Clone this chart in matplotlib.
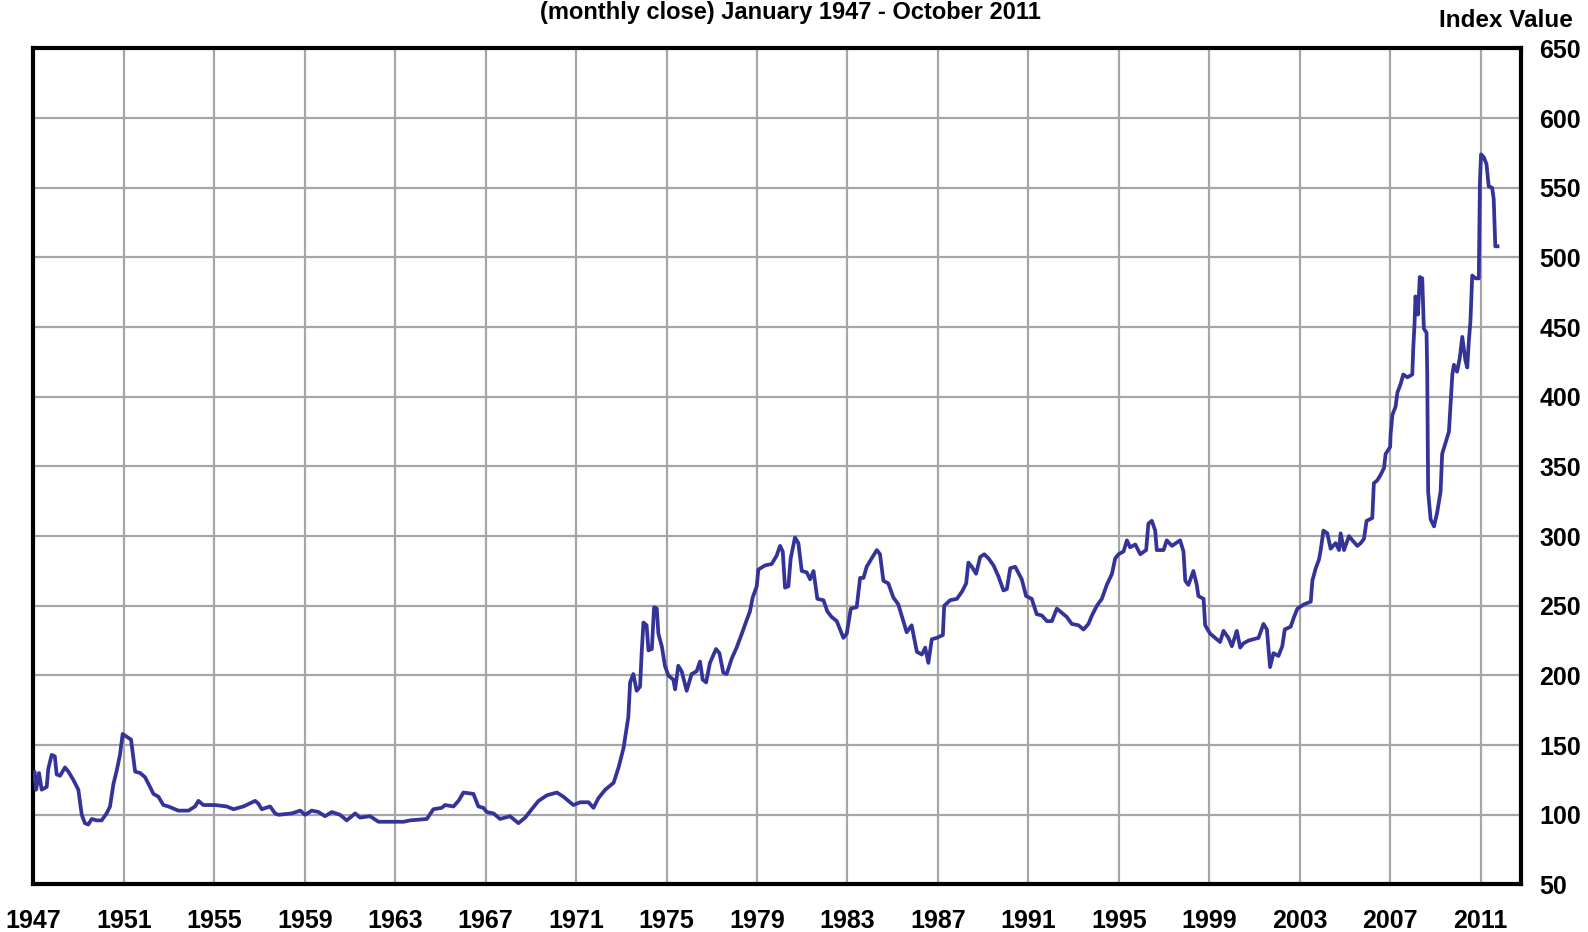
import matplotlib
matplotlib.use('Agg')
import matplotlib.pyplot as plt

plt.rcParams['font.family'] = ['Liberation Sans', 'DejaVu Sans']

# index value (monthly close), as (year, value) vertices
years = [
    1947.00, 1947.05, 1947.12, 1947.25, 1947.37, 1947.59, 1947.66, 1947.81, 1947.95, 1948.03,
    1948.18, 1948.40, 1948.55, 1948.77, 1948.99, 1949.14, 1949.28, 1949.43, 1949.58, 1949.80,
    1950.02, 1950.24, 1950.39, 1950.54, 1950.69, 1950.83, 1950.95, 1951.13, 1951.32, 1951.50,
    1951.72, 1951.94, 1952.16, 1952.31, 1952.53, 1952.75, 1952.97, 1953.41, 1953.86, 1954.15,
    1954.30, 1954.52, 1955.04, 1955.55, 1955.85, 1956.29, 1956.81, 1956.95, 1957.10, 1957.47,
    1957.69, 1957.84, 1958.43, 1958.80, 1959.02, 1959.31, 1959.61, 1959.90, 1960.20, 1960.56,
    1960.86, 1961.23, 1961.45, 1961.89, 1962.26, 1963.37, 1963.66, 1964.40, 1964.69, 1965.06,
    1965.21, 1965.58, 1965.80, 1966.02, 1966.46, 1966.68, 1966.90, 1967.05, 1967.35, 1967.64,
    1968.08, 1968.45, 1968.75, 1969.04, 1969.34, 1969.71, 1970.15, 1970.44, 1970.88, 1971.18,
    1971.55, 1971.77, 1971.99, 1972.29, 1972.66, 1972.88, 1973.10, 1973.31, 1973.39, 1973.53,
    1973.68, 1973.83, 1973.90, 1973.98, 1974.12, 1974.20, 1974.35, 1974.45, 1974.57, 1974.64,
    1974.79, 1974.93, 1975.08, 1975.30, 1975.38, 1975.52, 1975.67, 1975.89, 1976.11, 1976.33,
    1976.48, 1976.60, 1976.75, 1976.92, 1977.19, 1977.34, 1977.51, 1977.66, 1977.88, 1978.10,
    1978.33, 1978.55, 1978.69, 1978.81, 1978.99, 1979.06, 1979.36, 1979.65, 1979.87, 1980.02,
    1980.14, 1980.24, 1980.39, 1980.49, 1980.68, 1980.83, 1980.98, 1981.20, 1981.35, 1981.50,
    1981.67, 1981.94, 1982.11, 1982.30, 1982.53, 1982.82, 1982.97, 1983.15, 1983.41, 1983.56,
    1983.71, 1983.85, 1984.07, 1984.30, 1984.44, 1984.59, 1984.81, 1985.03, 1985.25, 1985.40,
    1985.62, 1985.84, 1986.07, 1986.29, 1986.44, 1986.58, 1986.73, 1986.95, 1987.22, 1987.28,
    1987.54, 1987.84, 1988.06, 1988.25, 1988.35, 1988.50, 1988.69, 1988.87, 1989.05, 1989.24,
    1989.46, 1989.68, 1989.90, 1990.05, 1990.20, 1990.42, 1990.71, 1990.90, 1991.15, 1991.37,
    1991.60, 1991.82, 1992.04, 1992.26, 1992.48, 1992.70, 1992.92, 1993.22, 1993.44, 1993.66,
    1993.81, 1994.03, 1994.25, 1994.47, 1994.70, 1994.84, 1994.99, 1995.21, 1995.36, 1995.50,
    1995.73, 1995.95, 1996.21, 1996.31, 1996.46, 1996.61, 1996.68, 1996.98, 1997.12, 1997.35,
    1997.71, 1997.86, 1997.94, 1998.08, 1998.30, 1998.45, 1998.52, 1998.75, 1998.82, 1999.04,
    1999.48, 1999.63, 1999.85, 2000.00, 2000.22, 2000.37, 2000.51, 2000.73, 2001.18, 2001.40,
    2001.55, 2001.69, 2001.84, 2002.06, 2002.23, 2002.34, 2002.60, 2002.75, 2002.90, 2003.19,
    2003.49, 2003.56, 2003.71, 2003.85, 2003.93, 2004.05, 2004.22, 2004.37, 2004.59, 2004.74,
    2004.81, 2004.96, 2005.18, 2005.33, 2005.55, 2005.70, 2005.84, 2005.96, 2006.21, 2006.28,
    2006.43, 2006.58, 2006.73, 2006.80, 2007.00, 2007.02, 2007.10, 2007.24, 2007.32, 2007.46,
    2007.58, 2007.76, 2007.98, 2008.02, 2008.08, 2008.12, 2008.23, 2008.31, 2008.42, 2008.49,
    2008.61, 2008.64, 2008.68, 2008.79, 2008.94, 2009.08, 2009.23, 2009.30, 2009.45, 2009.60,
    2009.75, 2009.82, 2009.96, 2010.08, 2010.19, 2010.33, 2010.41, 2010.48, 2010.55, 2010.63,
    2010.78, 2010.92, 2010.97, 2011.02, 2011.14, 2011.26, 2011.36, 2011.51, 2011.58, 2011.65,
    2011.75,
]
values = [
    125, 131, 118, 130, 118, 120, 133, 143, 142, 129,
    128, 134, 131, 125, 118, 100, 94, 93, 97, 96,
    96, 101, 106, 122, 132, 143, 158, 156, 154, 131,
    130, 127, 120, 115, 113, 107, 106, 103, 103, 106,
    110, 107, 107, 106, 104, 106, 110, 108, 104, 106,
    101, 100, 101, 103, 100, 103, 102, 99, 102, 100,
    96, 101, 98, 99, 95, 95, 96, 97, 104, 105,
    107, 106, 110, 116, 115, 106, 105, 102, 101, 97,
    99, 94, 98, 104, 110, 114, 116, 113, 107, 109,
    109, 105, 112, 118, 123, 134, 148, 170, 195, 201,
    189, 192, 216, 238, 236, 218, 219, 249, 248, 230,
    221, 207, 200, 197, 190, 207, 203, 189, 201, 203,
    210, 197, 195, 209, 219, 216, 202, 201, 212, 220,
    230, 240, 246, 256, 264, 276, 279, 280, 286, 293,
    289, 263, 264, 284, 299, 295, 275, 274, 269, 275,
    255, 254, 246, 242, 239, 227, 230, 248, 249, 270,
    270, 278, 284, 290, 287, 268, 266, 256, 251, 243,
    231, 236, 217, 215, 220, 209, 226, 227, 229, 250,
    254, 255, 260, 266, 281, 278, 273, 285, 287, 284,
    279, 271, 261, 262, 277, 278, 269, 257, 255, 244,
    243, 239, 239, 248, 245, 242, 237, 236, 233, 237,
    243, 250, 255, 265, 273, 284, 287, 289, 297, 292,
    294, 287, 290, 309, 311, 304, 290, 290, 297, 293,
    297, 289, 268, 265, 275, 265, 257, 255, 236, 230,
    224, 232, 227, 221, 232, 220, 223, 225, 227, 237,
    233, 206, 216, 214, 221, 233, 235, 242, 248, 251,
    253, 268, 277, 283, 290, 304, 302, 291, 295, 290,
    302, 290, 300, 297, 293, 295, 298, 311, 313, 338,
    340, 344, 349, 359, 364, 373, 387, 393, 403, 409,
    416, 414, 416, 434, 453, 472, 459, 486, 485, 449,
    446, 416, 332, 312, 307, 317, 332, 359, 367, 375,
    416, 423, 418, 428, 443, 426, 421, 440, 454, 487,
    485, 485, 554, 574, 572, 567, 551, 550, 542, 508,
    508,
]

x_ticks = list(range(1947, 2012, 4))
y_ticks = list(range(50, 651, 50))

fig = plt.figure(figsize=(15.88, 9.32), dpi=100)
ax = fig.add_axes([0.021, 0.051, 0.937, 0.897])

ax.plot(years, values, color='#33339a', linewidth=2.7, zorder=3)

ax.set_xlim(1947, 2012.8)
ax.set_ylim(50, 650)
ax.set_xticks(x_ticks)
ax.set_yticks(y_ticks)
ax.set_xticklabels([str(y) for y in x_ticks], fontsize=18, fontweight='bold')
ax.set_yticklabels([str(v) for v in y_ticks], fontsize=18, fontweight='bold')
ax.yaxis.tick_right()
ax.tick_params(axis='x', length=0, pad=18)
ax.tick_params(axis='y', length=0, pad=13)

ax.grid(True, color='#a6a6a6', linewidth=1.6)
ax.set_axisbelow(True)
for spine in ax.spines.values():
    spine.set_linewidth(3)
    spine.set_color('black')

fig.text(0.498, 0.987, '(monthly close) January 1947 - October 2011',
         ha='center', va='center', fontsize=17, fontweight='bold')
fig.text(0.9905, 0.978, 'Index Value', ha='right', va='center',
         fontsize=17.5, fontweight='bold')

fig.savefig('out.png', dpi=100)
